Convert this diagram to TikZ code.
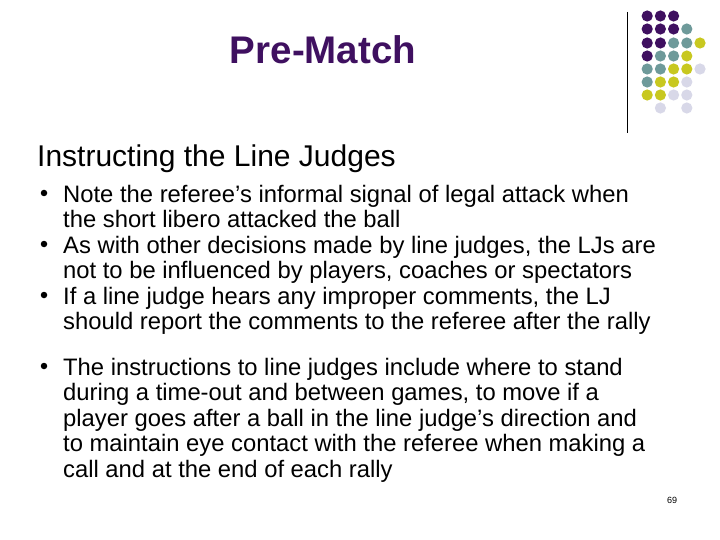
\documentclass[tikz,border=0pt]{standalone}
\usepackage{fontspec}
\setmainfont{Liberation Sans}
\definecolor{pp}{HTML}{3F1060}
\definecolor{tl}{HTML}{6E9A9A}
\definecolor{yl}{HTML}{C8C820}
\definecolor{lv}{HTML}{D8D8E8}
\begin{document}
\begin{tikzpicture}[x=1pt,y=-1pt,
  txt/.style={anchor=north west,inner sep=0pt,align=left,font=\fontsize{23.8}{25.5}\selectfont},
  bul/.style={circle,fill=black,inner sep=0pt,minimum size=6.5pt}]
\useasboundingbox[fill=white] (0,0) rectangle (720,540);
\draw[line width=0.8pt] (627,12) -- (627,133);
\foreach \r/\list in {16/{1/pp,2/pp,3/pp},29/{1/pp,2/pp,3/pp,4/tl},43/{1/pp,2/pp,3/tl,4/tl,5/yl},56/{1/pp,2/tl,3/tl,4/yl},69/{1/tl,2/tl,3/yl,4/yl,5/lv},82/{1/tl,2/yl,3/yl,4/lv},95/{1/yl,2/yl,3/lv,4/lv},108/{2/lv,4/lv}}{
  \foreach \c/\col in \list {\fill[\col] ({634+\c*13.2},\r) circle (5.6);}}
\node[font=\bfseries\fontsize{38.5}{40}\selectfont,text=pp] (title) at (323,50) {Pre-Match};
\node[anchor=base west,inner sep=0pt,font=\fontsize{30}{32}\selectfont] (head) at (37,167) {Instructing the Line Judges};
\node[txt] (t1) at (63,185) {Note the referee’s informal signal of legal attack when\\the short libero attacked the ball};
\node[txt] (t2) at (63,236) {As with other decisions made by line judges, the LJs are\\not to be influenced by players, coaches or spectators};
\node[txt] (t3) at (63,287) {If a line judge hears any improper comments, the LJ\\should report the comments to the referee after the rally};
\node[txt] (t4) at (63,358) {The instructions to line judges include where to stand\\during a time-out and between games, to move if a\\player goes after a ball in the line judge’s direction and\\to maintain eye contact with the referee when making a\\call and at the end of each rally};
\foreach \y [count=\i] in {193,244,295,366} \node[bul] (b\i) at (44,\y) {};
\node[font=\fontsize{9}{10}\selectfont] (pg) at (672,500) {69};
\end{tikzpicture}
\end{document}
